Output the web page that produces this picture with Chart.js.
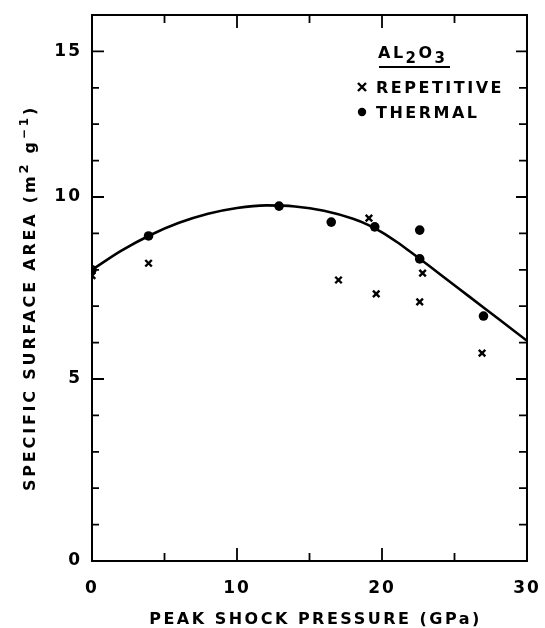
<!DOCTYPE html>
<html>
<head>
<meta charset="utf-8">
<script src="https://cdn.jsdelivr.net/npm/chart.js@4/dist/chart.umd.min.js"></script>
<style>
  html, body { margin: 0; padding: 0; background: #fff; }
  canvas { display: block; }
</style>
</head>
<body>
<canvas id="myChart" width="545" height="628"></canvas>
<script>
// repetitive shock (crosses)
const repetitiveX = [0, 3.9, 17.0, 19.1, 19.6, 22.6, 22.8, 26.9];
const repetitiveY = [7.84, 8.18, 7.72, 9.42, 7.34, 7.12, 7.91, 5.71];

// thermal (dots)
const thermalX = [0, 3.9, 12.9, 16.5, 19.5, 22.6, 22.6, 27.0];
const thermalY = [8.0, 8.93, 9.75, 9.31, 9.18, 9.09, 8.30, 6.73];

// hand drawn fit curve
const curveX = [0, 2, 4, 6, 8, 10, 12, 14, 16, 18, 19, 20, 21, 22, 24, 26, 28, 30];
const curveY = [8.0, 8.52, 8.95, 9.29, 9.54, 9.70, 9.77, 9.74, 9.62, 9.40, 9.24, 9.03, 8.77, 8.48, 7.88, 7.27, 6.66, 6.05];

const xTickValues = [0, 10, 20, 30];
// the original figure puts its "15" label on the tick one step below the frame top
const yTickValues = [0, 5, 10, 14];
const yTickLabels = ["0", "5", "10", "15"];

const FONT = "'DejaVu Sans', Verdana, sans-serif";

function pairs(xs, ys) {
    return xs.map((x, i) => ({ x: x, y: ys[i] }));
}

// draw a list of [text, size, dy] runs one after another
function drawRuns(ctx, runs, x, y) {
    let cx = x;
    runs.forEach(r => {
        ctx.font = "bold " + r[1] + "px " + FONT;
        ctx.fillText(r[0], cx, y + r[2]);
        cx += ctx.measureText(r[0]).width;
    });
    return cx - x;
}

function runsWidth(ctx, runs) {
    let w = 0;
    runs.forEach(r => {
        ctx.font = "bold " + r[1] + "px " + FONT;
        w += ctx.measureText(r[0]).width;
    });
    return w;
}

const spacing = {
    id: "spacing",
    beforeUpdate(chart) { chart.ctx.letterSpacing = "2px"; },
    beforeDraw(chart) { chart.ctx.letterSpacing = "2px"; }
};

const frame = {
    id: "frame",
    afterDraw(chart) {
        const ctx = chart.ctx;
        const a = chart.chartArea;
        const xs = chart.scales.x;
        const ys = chart.scales.y;
        ctx.save();
        ctx.strokeStyle = "#000";
        ctx.lineWidth = 2;
        ctx.strokeRect(a.left, a.top, a.right - a.left, a.bottom - a.top);

        ctx.lineWidth = 1.8;
        ctx.beginPath();
        [5, 10, 15, 20, 25].forEach(v => {
            const px = xs.getPixelForValue(v);
            const len = v % 10 === 0 ? 13 : 8;
            ctx.moveTo(px, a.bottom); ctx.lineTo(px, a.bottom - len);
            ctx.moveTo(px, a.top); ctx.lineTo(px, a.top + len);
        });
        for (let v = 1; v < 15; v++) {
            const py = ys.getPixelForValue(v);
            const major = yTickValues.indexOf(v) >= 0;
            ctx.moveTo(a.left, py); ctx.lineTo(a.left + (major ? 12 : 7), py);
            ctx.moveTo(a.right, py); ctx.lineTo(a.right - (major ? 11 : 8), py);
        }
        ctx.stroke();

        // axis titles
        ctx.fillStyle = "#000";
        ctx.textBaseline = "alphabetic";
        ctx.letterSpacing = "2.5px";
        const xt = [["PEAK SHOCK PRESSURE (GPa)", 16, 0]];
        drawRuns(ctx, xt, (a.left + a.right) / 2 - runsWidth(ctx, xt) / 2 + 6, 624);

        ctx.letterSpacing = "2.8px";
        const yt = [["SPECIFIC SURFACE AREA (m", 16, 0], ["2", 13, -7], [" g", 16, 0], ["\u22121", 12, -7], [")", 16, 0]];
        ctx.translate(35, 298);
        ctx.rotate(-Math.PI / 2);
        drawRuns(ctx, yt, -runsWidth(ctx, yt) / 2, 0);
        ctx.restore();

        // legend
        ctx.save();
        ctx.fillStyle = "#000";
        ctx.strokeStyle = "#000";
        ctx.textBaseline = "alphabetic";
        ctx.letterSpacing = "2.5px";
        drawRuns(ctx, [["AL", 16, 0], ["2", 15, 5], ["O", 16, 0], ["3", 15, 5]], 378, 58);
        ctx.lineWidth = 2;
        ctx.beginPath();
        ctx.moveTo(379, 67); ctx.lineTo(450, 67);
        ctx.stroke();

        ctx.lineWidth = 2.4;
        ctx.beginPath();
        ctx.moveTo(358, 83); ctx.lineTo(366, 91);
        ctx.moveTo(366, 83); ctx.lineTo(358, 91);
        ctx.stroke();
        drawRuns(ctx, [["REPETITIVE", 16, 0]], 376, 93);

        ctx.beginPath();
        ctx.arc(362, 112, 4.2, 0, Math.PI * 2);
        ctx.fill();
        drawRuns(ctx, [["THERMAL", 16, 0]], 376, 118);
        ctx.restore();
    }
};

const data = {
    datasets: [{
        type: "line",
        data: pairs(curveX, curveY),
        borderColor: "#000",
        borderWidth: 2.6,
        pointRadius: 0,
        cubicInterpolationMode: "monotone",
        fill: false
    }, {
        type: "scatter",
        label: "THERMAL",
        data: pairs(thermalX, thermalY),
        pointStyle: "circle",
        pointRadius: 4.8,
        backgroundColor: "#000",
        borderColor: "#000",
        borderWidth: 0
    }, {
        type: "scatter",
        label: "REPETITIVE",
        data: pairs(repetitiveX, repetitiveY),
        pointStyle: "crossRot",
        pointRadius: 4.6,
        borderColor: "#000",
        borderWidth: 2.4
    }]
};

const tickFont = { family: FONT, size: 17, weight: "bold" };

const config = {
    data: data,
    options: {
        responsive: false,
        animation: false,
        devicePixelRatio: 1,
        layout: { padding: { left: 0, top: 15, right: 18, bottom: 0 } },
        plugins: {
            legend: { display: false },
            tooltip: { enabled: false }
        },
        scales: {
            x: {
                type: "linear",
                min: 0,
                max: 30,
                grid: { display: false, drawTicks: false },
                border: { display: false },
                afterBuildTicks: s => { s.ticks = xTickValues.map(v => ({ value: v })); },
                afterFit: s => {
                    s.height = 67;
                    s.paddingLeft = 0; s.paddingRight = 0;
                },
                ticks: {
                    autoSkip: false,
                    maxRotation: 0,
                    padding: 17,
                    color: "#000",
                    font: tickFont
                }
            },
            y: {
                type: "linear",
                min: 0,
                max: 15,
                grid: { display: false, drawTicks: false },
                border: { display: false },
                afterBuildTicks: s => { s.ticks = yTickValues.map(v => ({ value: v })); },
                afterFit: s => {
                    s.width = 92;
                    s.paddingTop = 0; s.paddingBottom = 0;
                },
                ticks: {
                    autoSkip: false,
                    padding: 10,
                    color: "#000",
                    font: tickFont,
                    callback: function(value) {
                        return yTickLabels[yTickValues.indexOf(value)];
                    }
                }
            }
        }
    },
    plugins: [spacing, frame]
};

const myChart = new Chart(document.getElementById("myChart").getContext("2d"), config);
</script>
</body>
</html>
